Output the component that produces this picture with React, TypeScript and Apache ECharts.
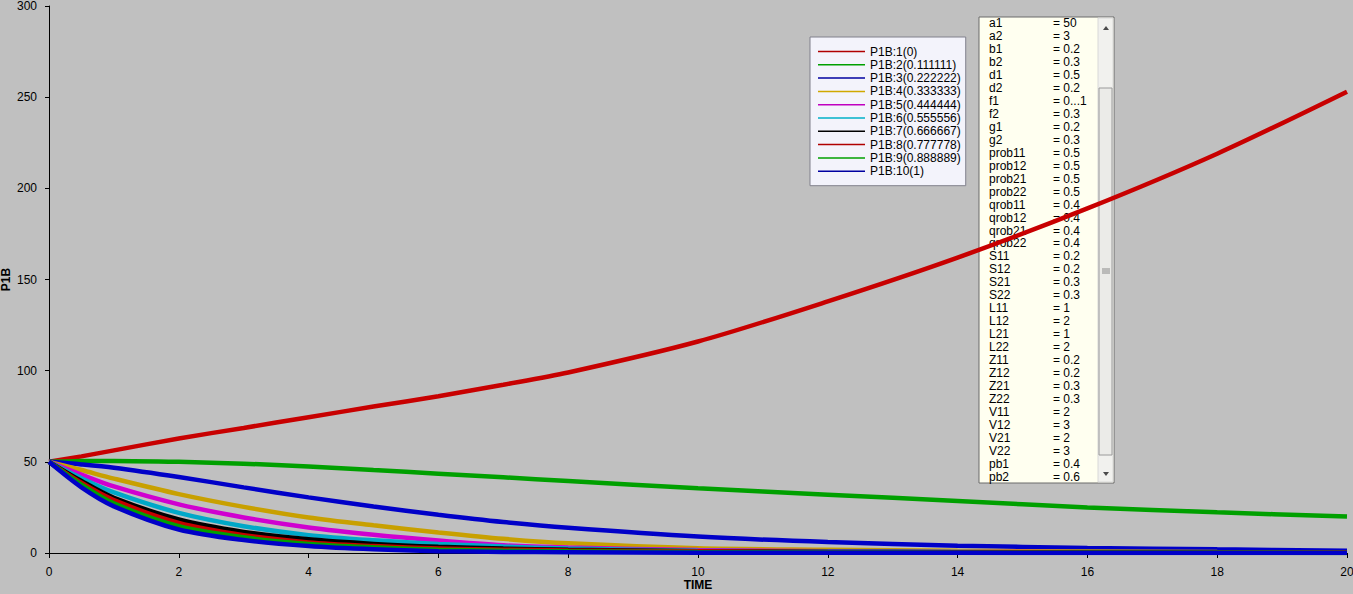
import React, { useEffect, useRef } from 'react';
import * as echarts from 'echarts';

// time samples
const times = [0, 0.5, 1, 2, 3, 4, 5, 6, 7, 8, 10, 12, 14, 16, 18, 20];

const seriesNames = [
  'P1B:1(0)', 'P1B:2(0.111111)', 'P1B:3(0.222222)', 'P1B:4(0.333333)', 'P1B:5(0.444444)',
  'P1B:6(0.555556)', 'P1B:7(0.666667)', 'P1B:8(0.777778)', 'P1B:9(0.888889)', 'P1B:10(1)',
];

const p1b1 = [50, 53, 56.3, 62.8, 68.6, 74.5, 80.3, 86, 92.3, 99, 116, 138, 162, 189, 219, 253];
const p1b2 = [50, 50.4, 50.5, 50, 49, 47.5, 45.5, 43.5, 41.5, 39.5, 35.5, 32, 28.5, 25, 22.3, 20];
const p1b3 = [50, 48.6, 46.8, 41.7, 36, 30.5, 25.5, 21, 17, 13.8, 9, 6, 4, 2.8, 2, 1.3];
const p1b4 = [50, 45.5, 40.8, 32.3, 25.3, 19.5, 15.2, 11.3, 7.8, 5.3, 2.6, 1.8, 1.2, 0.8, 0.5, 0.3];
const p1b5 = [50, 43, 36.5, 26.7, 19.5, 14, 10, 6.8, 4.2, 3, 1.6, 1, 0.6, 0.4, 0.2, 0.1];
const p1b6 = [50, 41, 33.2, 22, 14.7, 9.8, 7, 5, 3.5, 2.5, 1.3, 0.8, 0.5, 0.3, 0.2, 0.1];
const p1b7 = [50, 39.5, 30.3, 18.4, 11.6, 7.5, 5, 3.4, 2.4, 1.8, 1, 0.6, 0.4, 0.3, 0.2, 0.1];
const p1b8 = [50, 38.5, 29, 16.5, 9.8, 5.8, 3.8, 2.4, 1.8, 1.4, 0.9, 0.5, 0.3, 0.2, 0.1, 0.1];
const p1b9 = [50, 37.5, 27.2, 14.7, 8.6, 5, 3.1, 1.8, 1.2, 0.9, 0.5, 0.3, 0.2, 0.1, 0.1, 0];
const p1b10 = [50, 36, 25.6, 12.9, 7.1, 3.8, 2, 1, 0.6, 0.4, 0.2, 0.1, 0.1, 0, 0, 0];

const seriesValues = [p1b1, p1b2, p1b3, p1b4, p1b5, p1b6, p1b7, p1b8, p1b9, p1b10];

const lineColors = ['#c80000', '#00a000', '#0000c8', '#c8a000', '#d000d0', '#00a8c8', '#000000', '#c80000', '#00a000', '#0000c8'];
const legendColors = ['#b00000', '#00a000', '#0000a0', '#d0a800', '#c000c0', '#00b0c8', '#000000', '#b00000', '#00a000', '#0000a0'];

// parameter list shown in the side panel
const paramNames = [
  'a1', 'a2', 'b1', 'b2', 'd1', 'd2', 'f1', 'f2', 'g1', 'g2',
  'prob11', 'prob12', 'prob21', 'prob22', 'qrob11', 'qrob12', 'qrob21', 'qrob22',
  'S11', 'S12', 'S21', 'S22', 'L11', 'L12', 'L21', 'L22',
  'Z11', 'Z12', 'Z21', 'Z22', 'V11', 'V12', 'V21', 'V22', 'pb1', 'pb2',
];
const paramValues = [
  '50', '3', '0.2', '0.3', '0.5', '0.2', '0...1', '0.3', '0.2', '0.3',
  '0.5', '0.5', '0.5', '0.5', '0.4', '0.4', '0.4', '0.4',
  '0.2', '0.2', '0.3', '0.3', '1', '2', '1', '2',
  '0.2', '0.2', '0.3', '0.3', '2', '3', '2', '3', '0.4', '0.6',
];

const FONT = '"Liberation Sans", Arial, sans-serif';

const buildPanel = () => {
  const left = 979, top = 17, w = 135, h = 466;
  const items: any[] = [
    { type: 'rect', shape: { x: left, y: top, width: w, height: h }, style: { fill: '#fffff0', stroke: '#6a6a6a', lineWidth: 1 } },
    // scrollbar
    { type: 'rect', shape: { x: 1098, y: top + 1, width: 15, height: h - 2 }, style: { fill: '#f1f1ee', stroke: '#d8d8d8', lineWidth: 1 } },
    { type: 'rect', shape: { x: 1099, y: 88, width: 13, height: 367 }, style: { fill: '#ebebe8', stroke: '#9a9a9a', lineWidth: 1 } },
    { type: 'polygon', shape: { points: [[1103, 30], [1109, 30], [1106, 26]] }, style: { fill: '#4a4a4a' } },
    { type: 'polygon', shape: { points: [[1103, 472], [1109, 472], [1106, 476]] }, style: { fill: '#4a4a4a' } },
    { type: 'line', shape: { x1: 1102, y1: 269, x2: 1110, y2: 269 }, style: { stroke: '#8a8a8a', lineWidth: 1 } },
    { type: 'line', shape: { x1: 1102, y1: 271, x2: 1110, y2: 271 }, style: { stroke: '#8a8a8a', lineWidth: 1 } },
    { type: 'line', shape: { x1: 1102, y1: 273, x2: 1110, y2: 273 }, style: { stroke: '#8a8a8a', lineWidth: 1 } },
  ];
  paramNames.forEach((name, i) => {
    const y = 23 + i * 12.97;
    items.push({ type: 'text', x: 989, y, style: { text: name, fill: '#000', font: `12px ${FONT}`, verticalAlign: 'middle' } });
    items.push({ type: 'text', x: 1053, y, style: { text: '= ' + paramValues[i], fill: '#000', font: `12px ${FONT}`, verticalAlign: 'middle' } });
  });
  return items;
};

const App = () => {
  const chartRef = useRef<HTMLDivElement>(null);

  useEffect(() => {
    const myChart = echarts.init(chartRef.current, null, { renderer: 'svg' });
    myChart.setOption({
      animation: false,
      backgroundColor: '#c0c0c0',
      grid: { left: 49, right: 6, top: 6, bottom: 41, outerBoundsMode: 'none', containLabel: false },
      legend: {
        orient: 'vertical',
        left: 810,
        top: 37,
        padding: [8, 5, 8, 8],
        itemWidth: 47,
        itemHeight: 1.5,
        itemGap: 0.3,
        icon: 'rect',
        selectedMode: false,
        backgroundColor: '#f3f3fb',
        borderColor: '#80808c',
        borderWidth: 1,
        textStyle: { fontSize: 12, lineHeight: 13, fontFamily: FONT, color: '#000' },
        data: seriesNames.map((name, i) => ({ name, itemStyle: { color: legendColors[i] } })),
      },
      xAxis: {
        type: 'value',
        min: 0,
        max: 20,
        interval: 2,
        offset: 6,
        name: 'TIME',
        nameLocation: 'middle',
        nameGap: 20,
        nameMoveOverlap: false,
        nameTextStyle: { fontWeight: 'bold', fontSize: 12, fontFamily: FONT, color: '#000' },
        axisLine: { lineStyle: { color: '#000', width: 1 } },
        axisTick: { length: 5, lineStyle: { color: '#000' } },
        axisLabel: { margin: 7, fontSize: 12, fontFamily: FONT, color: '#000' },
        splitLine: { show: false },
      },
      yAxis: {
        type: 'value',
        min: 0,
        max: 300,
        interval: 50,
        offset: 6,
        name: 'P1B',
        nameLocation: 'middle',
        nameGap: 31,
        nameMoveOverlap: false,
        nameTextStyle: { fontWeight: 'bold', fontSize: 12, fontFamily: FONT, color: '#000' },
        axisLine: { show: true, lineStyle: { color: '#000', width: 1 } },
        axisTick: { show: true, length: 4, lineStyle: { color: '#000' } },
        axisLabel: { margin: 6, fontSize: 12, fontFamily: FONT, color: '#000' },
        splitLine: { show: false },
      },
      series: seriesValues.map((vals, i) => ({
        name: seriesNames[i],
        type: 'line',
        data: times.map((t, j) => [t, vals[j]]),
        smooth: 0.3,
        showSymbol: false,
        color: lineColors[i],
        lineStyle: { width: 4.5, color: lineColors[i] },
      })),
      graphic: buildPanel(),
    });
    return () => {
      myChart.dispose();
    };
  }, []);

  return (
    <div ref={chartRef}
      style={{ position: 'fixed', left: 0, top: 0, width: 1353, height: 594 }}>
    </div>
  );
};

export default App;
